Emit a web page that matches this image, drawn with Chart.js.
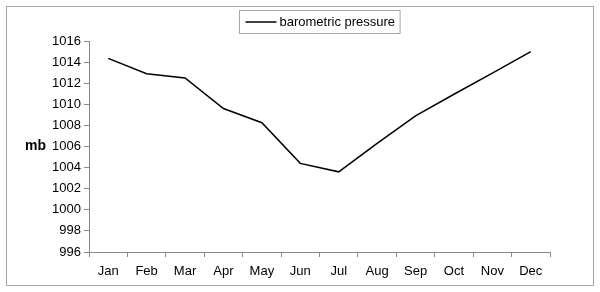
<!DOCTYPE html>
<html>
<head>
<meta charset="utf-8">
<script src="https://cdn.jsdelivr.net/npm/chart.js@4.4.1/dist/chart.umd.min.js"></script>
<style>
html,body{margin:0;padding:0;background:#fff;}
#wrap{width:600px;height:292px;position:relative;}
</style>
</head>
<body>
<div id="wrap"><canvas id="c" width="600" height="292"></canvas></div>
<script>
const months = ["Jan","Feb","Mar","Apr","May","Jun","Jul","Aug","Sep","Oct","Nov","Dec"];
const pressure = [1014.35, 1012.9, 1012.5, 1009.6, 1008.25, 1004.4, 1003.6, 1006.3, 1008.9, 1010.95, 1012.95, 1015.0];
const seriesName = "barometric pressure";
const yTitle = "mb";
const yMin = 996, yMax = 1016, yStep = 2;

const FONT = "'Liberation Sans', Arial, sans-serif";

const decor = {
  id: 'decor',
  beforeDraw(chart) {
    const ctx = chart.ctx;
    ctx.save();
    ctx.fillStyle = '#fff';
    ctx.fillRect(0, 0, chart.width, chart.height);
    ctx.restore();
  },
  afterDraw(chart) {
    const ctx = chart.ctx;
    const ca = chart.chartArea;
    ctx.save();
    ctx.strokeStyle = '#a6a6a6';
    ctx.lineWidth = 1;
    ctx.strokeRect(6.5, 6.5, 587, 279);
    ctx.fillStyle = '#000';
    ctx.font = "bold 14px " + FONT;
    ctx.textAlign = 'left';
    ctx.textBaseline = 'middle';
    ctx.fillText(yTitle, 25, (ca.top + ca.bottom) / 2);
    ctx.font = "13px " + FONT;
    const tw = ctx.measureText(seriesName).width;
    const lineW = 31, gap = 3, padL = 6, padR = 5;
    const boxW = padL + lineW + gap + tw + padR;
    const boxX = Math.round((ca.left + ca.right) / 2 - boxW / 2) + 0.5;
    const boxY = 10.5, boxH = 23;
    ctx.strokeStyle = '#a6a6a6';
    ctx.strokeRect(boxX, boxY, boxW, boxH);
    const cy = boxY + boxH / 2;
    ctx.strokeStyle = '#000';
    ctx.lineWidth = 1.5;
    ctx.beginPath();
    ctx.moveTo(boxX + padL, cy);
    ctx.lineTo(boxX + padL + lineW, cy);
    ctx.stroke();
    ctx.fillStyle = '#000';
    ctx.fillText(seriesName, boxX + padL + lineW + gap, cy + 0.5);
    ctx.restore();
  }
};

new Chart(document.getElementById('c'), {
  type: 'line',
  data: {
    labels: months,
    datasets: [{
      label: seriesName,
      data: pressure,
      borderColor: '#000',
      borderWidth: 1.5,
      pointRadius: 0,
      tension: 0,
      fill: false
    }]
  },
  options: {
    responsive: false,
    animation: false,
    devicePixelRatio: 1,
    layout: { padding: { top: 41, right: 50, bottom: 0, left: 0 } },
    plugins: { legend: { display: false }, tooltip: { enabled: false } },
    scales: {
      x: {
        type: 'category',
        offset: true,
        afterFit(s) { s.height = 40; },
        grid: { offset: true, drawOnChartArea: false, drawTicks: true, tickLength: 5, color: '#888' },
        border: { display: true, color: '#888', width: 1 },
        ticks: { color: '#000', font: { family: FONT, size: 13 }, padding: 7, maxRotation: 0, autoSkip: false }
      },
      y: {
        min: yMin, max: yMax,
        afterFit(s) { s.width = 89; },
        grid: { drawOnChartArea: false, drawTicks: true, tickLength: 5, color: '#888' },
        border: { display: true, color: '#888', width: 1 },
        ticks: { stepSize: yStep, color: '#000', font: { family: FONT, size: 13 }, padding: 3,
                 callback: (v) => String(v) }
      }
    }
  },
  plugins: [decor]
});
</script>
</body>
</html>
